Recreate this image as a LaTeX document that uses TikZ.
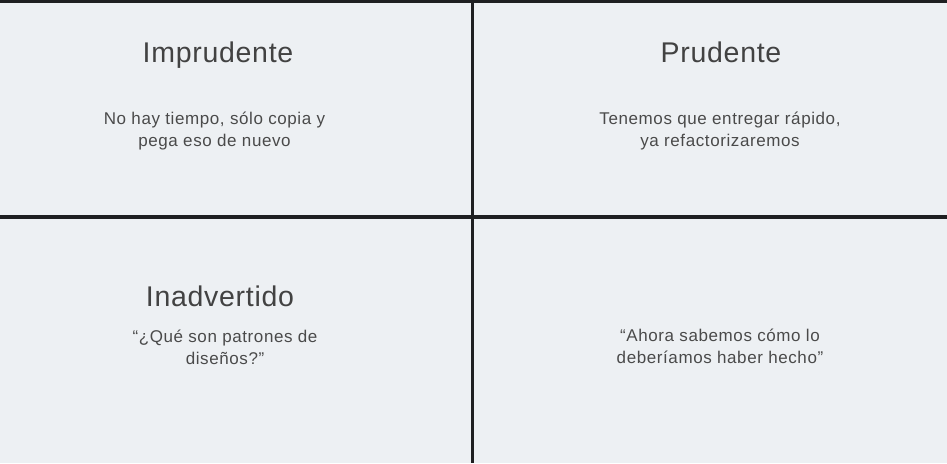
\documentclass[tikz,border=0pt]{standalone}
\usepackage{fontspec}
\setmainfont{Liberation Sans}
\newfontfamily\titlefont[LetterSpace=2.5]{Liberation Sans}
\newfontfamily\bodyfont[LetterSpace=3.5]{Liberation Sans}
\usetikzlibrary{positioning}
\definecolor{panelbg}{HTML}{EDF0F3}
\definecolor{titlegray}{HTML}{424242}
\definecolor{textgray}{HTML}{4A4A4A}
\definecolor{rulegray}{HTML}{1E1F21}
\tikzset{
  quadtitle/.style={anchor=base, inner sep=0pt, text=titlegray,
    font=\titlefont\fontsize{28.5}{34}\selectfont},
  quadtext/.style={anchor=base, inner sep=0pt, align=center, text=textgray,
    font=\bodyfont\fontsize{17}{22}\selectfont},
  divider/.style={draw=rulegray, line width=4pt}
}

\begin{document}
\begin{tikzpicture}[x=1pt, y=-1pt]
  % Background
  \fill[panelbg] (0,0) rectangle (947,463);
  \useasboundingbox (0,0) rectangle (947,463);

  % Dividers
  \fill[rulegray] (0,0) rectangle (947,2.7);
  \coordinate (top) at (472.5,0);
  \coordinate (bottom) at (472.5,463);
  \coordinate (left) at (0,216.7);
  \coordinate (right) at (947,216.7);
  \draw[divider, line width=3.6pt] (top) -- (bottom);
  \draw[divider] (left) -- (right);

  % Top left: Imprudente (base = last line)
  \node[quadtitle] (imprudente) at (218,62.7) {Imprudente};
  \node[quadtext] (imprudente-txt) at (214.5,146.5)
    {No hay tiempo, sólo copia y\\pega eso de nuevo};

  % Top right: Prudente
  \node[quadtitle] (prudente) at (721,62.7) {Prudente};
  \node[quadtext] (prudente-txt) at (720,146.5)
    {Tenemos que entregar rápido,\\ya refactorizaremos};

  % Bottom left: Inadvertido
  \node[quadtitle] (inadvertido) at (220,306.7) {Inadvertido};
  \node[quadtext] (inadvertido-txt) at (225,364)
    {“¿Qué son patrones de\\diseños?”};

  % Bottom right
  \node[quadtext] (ahora-txt) at (720,363.5)
    {“Ahora sabemos cómo lo\\deberíamos haber hecho”};
\end{tikzpicture}
\end{document}
